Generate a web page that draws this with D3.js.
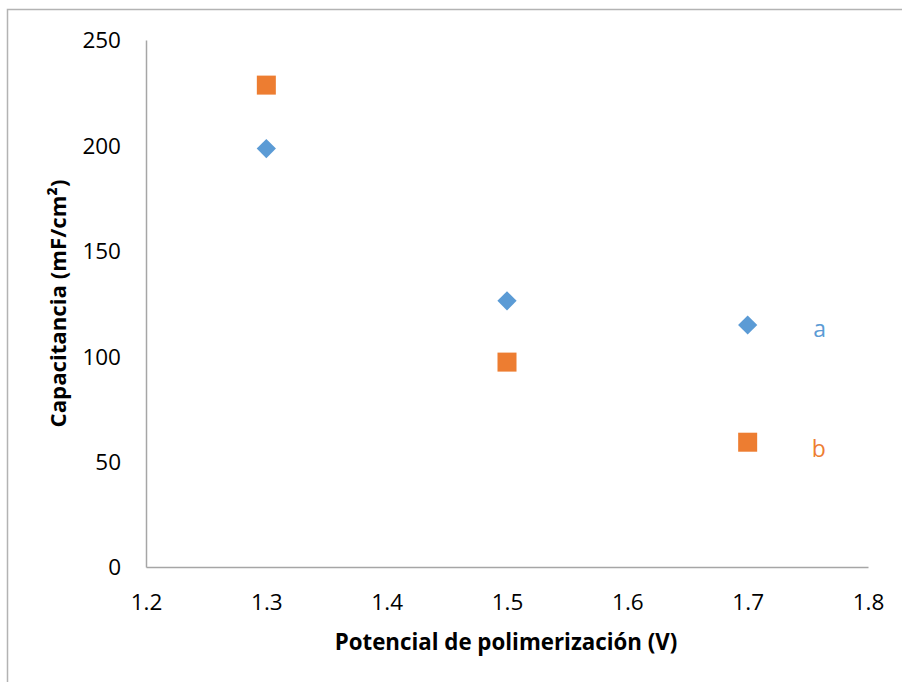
<!DOCTYPE html>
<html><head><meta charset="utf-8">
<script src="https://cdn.jsdelivr.net/npm/d3@7"></script>
<style>body{margin:0;background:#fff}svg{display:block}</style>
</head><body>
<svg id="c" width="902" height="682"></svg>
<script>
const xValues = [1.3, 1.5, 1.7];
const seriesA = [198.5, 126.3, 114.8];
const seriesB = [228.6, 97.2, 59.2];
const seriesNames = ["a", "b"];
const xTicks = [1.2, 1.3, 1.4, 1.5, 1.6, 1.7, 1.8];
const yTicks = [0, 50, 100, 150, 200, 250];
const xTitle = "Potencial de polimerización (V)";
const yTitle = "Capacitancia (mF/cm²)";

const FONT = "'Open Sans', Lato, sans-serif";
const svg = d3.select("#c");
const x = d3.scaleLinear().domain([1.2, 1.8]).range([146, 868]);
const y = d3.scaleLinear().domain([0, 250]).range([567, 40]);

// chart border (only top and left visible)
svg.append("rect").attr("x", 7.5).attr("y", 9.5).attr("width", 920).attr("height", 700)
  .attr("fill", "none").attr("stroke", "#b3b3b3").attr("stroke-width", 1.5);

// axes
const xAxis = svg.append("g").attr("transform", `translate(0,${y(0)})`)
  .call(d3.axisBottom(x).tickValues(xTicks).tickSize(0).tickPadding(0).tickFormat(d3.format(".1f")));
const yAxis = svg.append("g").attr("transform", `translate(${x(1.2)},0)`)
  .call(d3.axisLeft(y).tickValues(yTicks).tickSize(0).tickPadding(25));
[xAxis, yAxis].forEach(g => {
  g.select(".domain").attr("stroke", "#a6a6a6").attr("stroke-width", 1.5);
  g.selectAll("text").attr("font-family", FONT).attr("font-size", 22.5).attr("fill", "#000");
});
xAxis.selectAll("text").attr("y", 35).attr("dy", "0.35em");
yAxis.selectAll("text").attr("dy", "0.35em");

function fitText(sel, target) {
  let fs = 20;
  sel.attr("font-size", fs);
  const w = sel.node().getComputedTextLength();
  sel.attr("font-size", fs * target / w);
}

// titles
const xt = svg.append("text").attr("x", 506).attr("y", 642).attr("dy", "0.35em")
  .attr("text-anchor", "middle").attr("font-family", FONT).attr("font-weight", "bold")
  .text(xTitle);
fitText(xt, 343);
const yt = svg.append("text").attr("transform", `translate(58,${(y(0) + y(250)) / 2}) rotate(-90)`)
  .attr("dy", "0.35em")
  .attr("text-anchor", "middle").attr("font-family", FONT).attr("font-weight", "bold")
  .text(yTitle);
fitText(yt, 248);

const blue = "#5b9bd5", orange = "#ed7d31";
const dataA = xValues.map((v, i) => ({x: v, y: seriesA[i]}));
const dataB = xValues.map((v, i) => ({x: v, y: seriesB[i]}));

// series a: diamonds
svg.append("g").selectAll("path").data(dataA).join("path")
  .attr("transform", d => `translate(${x(d.x)},${y(d.y)}) rotate(45)`)
  .attr("d", "M-6.8,-6.8H6.8V6.8H-6.8Z").attr("fill", blue);
// series b: squares
svg.append("g").selectAll("rect").data(dataB).join("rect")
  .attr("x", d => x(d.x) - 9.5).attr("y", d => y(d.y) - 9.5)
  .attr("width", 19).attr("height", 19).attr("fill", orange);

// series labels
const lastIdx = xValues.length - 1;
svg.append("text").attr("x", x(1.7) + 72).attr("y", y(seriesA[lastIdx]) + 4).attr("dy", "0.35em")
  .attr("text-anchor", "middle").attr("font-family", FONT).attr("font-size", 23).attr("fill", blue).text(seriesNames[0]);
svg.append("text").attr("x", x(1.7) + 71).attr("y", y(seriesB[lastIdx]) + 7).attr("dy", "0.35em")
  .attr("text-anchor", "middle").attr("font-family", FONT).attr("font-size", 23).attr("fill", orange).text(seriesNames[1]);
</script>
</body></html>
